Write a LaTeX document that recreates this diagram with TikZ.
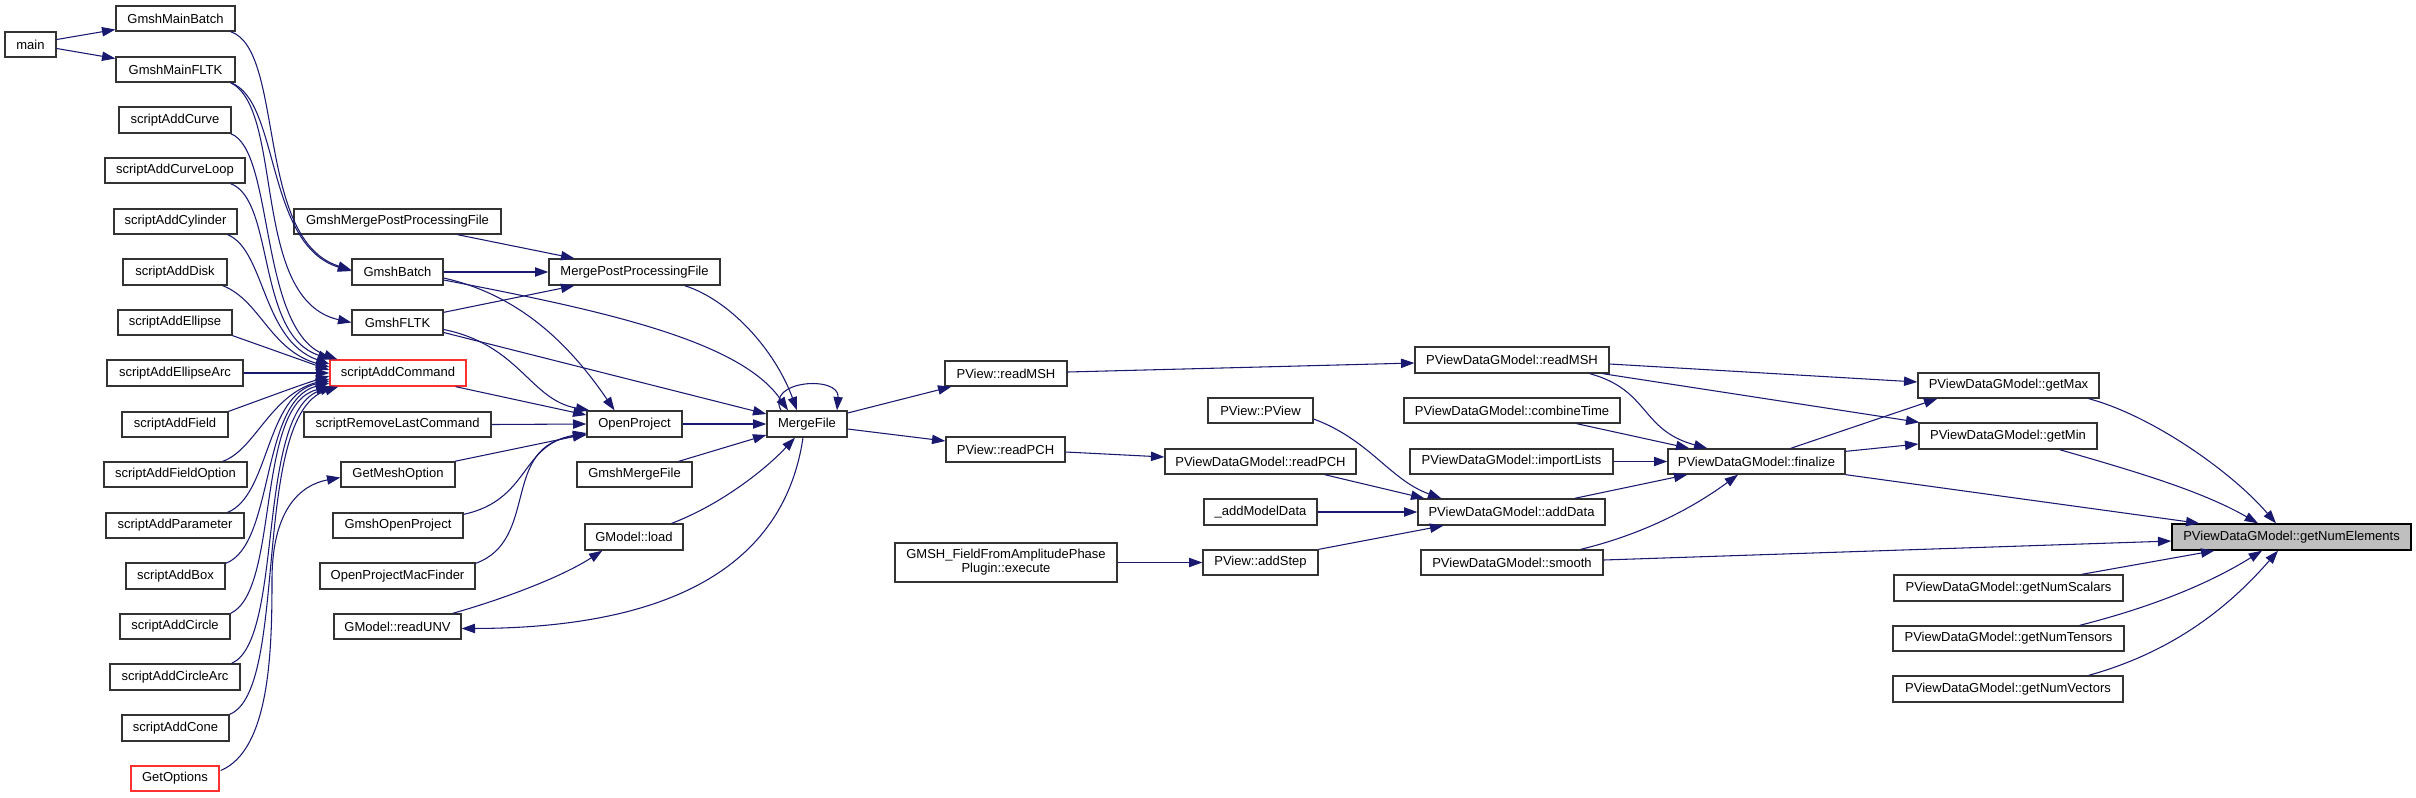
\documentclass[tikz,border=0pt]{standalone}
\usepackage{fontspec}
\setmainfont{Liberation Sans}
\usetikzlibrary{arrows.meta,calc}
\definecolor{mblue}{RGB}{25,25,112}
\definecolor{redb}{RGB}{255,48,48}
\definecolor{grayf}{RGB}{191,191,191}
\newcommand\gnode[7][]{%
  \pgfmathsetlengthmacro\gw{#5*0.75pt}%
  \pgfmathsetlengthmacro\gh{#6*0.75pt}%
  \node[box,#1,minimum width=\gw,minimum height=\gh] (#2) at (#3,#4) {#7};}
\begin{document}
\begin{tikzpicture}[x=0.75pt,y=-0.75pt,
  box/.style={draw=black!80, line width=1pt, fill=white, inner sep=0pt, font=\fontsize{9.75}{10.5}\selectfont},
  cl/.style={draw=mblue, line width=0.8pt, -{Triangle[length=10pt,width=7pt]}}]
\useasboundingbox (0,0) rectangle (2416,797);
% column 1
\gnode{main}{30.5}{44.5}{51}{25}{main}
% column 2
\gnode{GmshMainBatch}{175.5}{18.5}{119}{25}{GmshMainBatch}
\gnode{GmshMainFLTK}{175.5}{69.5}{119}{25}{GmshMainFLTK}
\gnode{sACurve}{175}{120}{112}{26}{scriptAddCurve}
\gnode{sACurveLoop}{175}{170.5}{140}{25}{scriptAddCurveLoop}
\gnode{sACylinder}{175.5}{221.5}{123}{25}{scriptAddCylinder}
\gnode{sADisk}{175}{272}{104}{26}{scriptAddDisk}
\gnode{sAEllipse}{175}{322.5}{114}{25}{scriptAddEllipse}
\gnode{sAEllipseArc}{175}{373}{136}{26}{scriptAddEllipseArc}
\gnode{sAField}{175}{424.5}{106}{25}{scriptAddField}
\gnode{sAFieldOption}{175.5}{474.5}{143}{25}{scriptAddFieldOption}
\gnode{sAParameter}{175}{525.5}{138}{25}{scriptAddParameter}
\gnode{sABox}{175.5}{576}{99}{26}{scriptAddBox}
\gnode{sACircle}{175}{626.5}{110}{25}{scriptAddCircle}
\gnode{sACircleArc}{175}{677}{130}{26}{scriptAddCircleArc}
\gnode{sACone}{175.5}{728}{107}{26}{scriptAddCone}
\gnode[draw=redb]{GetOptions}{175}{778.5}{88}{25}{GetOptions}
% column 3
\gnode{GmshMPPF}{397.5}{221.5}{207}{25}{GmshMergePostProcessingFile}
\gnode{GmshBatch}{397.5}{272}{91}{26}{GmshBatch}
\gnode{GmshFLTK}{397.5}{322.5}{91}{25}{GmshFLTK}
\gnode[draw=redb]{sACommand}{398}{373}{136}{26}{scriptAddCommand}
\gnode{sRLC}{397.5}{424.5}{187}{25}{scriptRemoveLastCommand}
\gnode{GetMeshOption}{398}{474.5}{114}{25}{GetMeshOption}
\gnode{GmshOpenProject}{398}{525.5}{130}{25}{GmshOpenProject}
\gnode{OPMacFinder}{397.5}{576}{155}{26}{OpenProjectMacFinder}
\gnode{readUNV}{397.5}{626.5}{127}{25}{GModel::readUNV}
% column 4
\gnode{MPPF}{634.5}{272}{171}{26}{MergePostProcessingFile}
\gnode{OpenProject}{634.5}{424}{95}{26}{OpenProject}
\gnode{GmshMergeFile}{634.5}{474.5}{115}{25}{GmshMergeFile}
\gnode{GMload}{634}{537}{98}{26}{GModel::load}
% column 5
\gnode{MergeFile}{807}{424}{80}{26}{MergeFile}
% column 6
\gnode{PVreadMSH}{1006}{373.5}{122}{25}{PView::readMSH}
\gnode{PVreadPCH}{1005.5}{449.5}{119}{25}{PView::readPCH}
\gnode[align=center]{GMSHField}{1006}{562.5}{222}{39}{GMSH\_FieldFromAmplitudePhase\\Plugin::execute}
% column 7
\gnode{PVPView}{1260.5}{410.5}{105}{25}{PView::PView}
\gnode{DGreadPCH}{1260.5}{461.5}{191}{25}{PViewDataGModel::readPCH}
\gnode{addModelData}{1260.5}{512}{113}{26}{\_addModelData}
\gnode{PVaddStep}{1260.5}{562.5}{115}{25}{PView::addStep}
% column 8
\gnode{DGreadMSH}{1512}{360}{194}{26}{PViewDataGModel::readMSH}
\gnode{DGcombineTime}{1512}{410.5}{216}{25}{PViewDataGModel::combineTime}
\gnode{DGimportLists}{1511.5}{461.5}{203}{25}{PViewDataGModel::importLists}
\gnode{DGaddData}{1511.5}{512}{187}{26}{PViewDataGModel::addData}
\gnode{DGsmooth}{1512}{562.5}{182}{25}{PViewDataGModel::smooth}
% column 9
\gnode{DGfinalize}{1756.5}{461.5}{177}{25}{PViewDataGModel::finalize}
% column 10
\gnode{DGgetMax}{2008.5}{385.5}{181}{25}{PViewDataGModel::getMax}
\gnode{DGgetMin}{2008}{436}{178}{26}{PViewDataGModel::getMin}
\gnode{DGgetNumScalars}{2008.5}{588}{229}{26}{PViewDataGModel::getNumScalars}
\gnode{DGgetNumTensors}{2008.5}{638.5}{231}{25}{PViewDataGModel::getNumTensors}
\gnode{DGgetNumVectors}{2008}{689}{230}{26}{PViewDataGModel::getNumVectors}
% column 11
\gnode[fill=grayf,draw=black]{DGgetNumElements}{2291.5}{537}{239}{26}{PViewDataGModel::getNumElements}

% ---- edges, left part
\draw[cl] ($(main.east)+(0,-5)$) -- ($(GmshMainBatch.west)+(0,11)$);
\draw[cl] ($(main.east)+(0,4)$) -- ($(GmshMainFLTK.west)+(0,-11)$);
\draw[cl] ($(GmshMainBatch.south east)+(-5,0)$) .. controls (285,50) and (255,240) .. ($(GmshBatch.west)+(0,-2)$);
\draw[cl] ($(GmshMainFLTK.south east)+(-5,0)$) .. controls (280,100) and (265,245) .. ($(GmshBatch.west)+(0,-1)$);
\draw[cl] ($(GmshMainFLTK.south east)+(-5,0)$) .. controls (285,110) and (250,300) .. (GmshFLTK.west);
\draw[cl] ($(sACurve.south east)+(-1,0)$) .. controls (275,150) and (258,330) .. ($(sACommand.north west)+(8,0)$);
\draw[cl] ($(sACurveLoop.south east)+(-15,0)$) .. controls (275,200) and (256,335) .. ($(sACommand.north west)+(2,0)$);
\draw[cl] ($(sACylinder.south east)+(-10,0)$) .. controls (265,250) and (262,340) .. ($(sACommand.west)+(0,-9)$);
\draw[cl] ($(sADisk.south east)+(-5,0)$) .. controls (260,300) and (270,350) .. ($(sACommand.west)+(0,-6)$);
\draw[cl] (sAEllipse.south east) -- ($(sACommand.west)+(0,-3)$);
\draw[cl] (sAEllipseArc.east) -- (sACommand.west);
\draw[cl] (sAField.north east) .. controls (260,400) and (300,385) .. ($(sACommand.west)+(0,3)$);
\draw[cl] ($(sAFieldOption.north east)+(-25,0)$) .. controls (255,450) and (270,395) .. ($(sACommand.west)+(0,6)$);
\draw[cl] ($(sAParameter.north east)+(-17,0)$) .. controls (270,495) and (265,395) .. ($(sACommand.west)+(0,8)$);
\draw[cl] ($(sABox.north east)+(0,1)$) .. controls (275,545) and (260,400) .. ($(sACommand.west)+(0,10)$);
\draw[cl] (sACircle.north east) .. controls (280,590) and (255,405) .. (sACommand.south west);
\draw[cl] ($(sACircleArc.north east)+(-9,0)$) .. controls (285,640) and (255,410) .. ($(sACommand.south west)+(4,0)$);
\draw[cl] (sACone.north east) .. controls (290,690) and (250,415) .. ($(sACommand.south west)+(9,0)$);
\draw[cl] ($(GetOptions.east)+(1,-8)$) .. controls (270,750) and (272,650) .. (272,580) .. controls (272,510) and (300,485) .. ($(GetMeshOption.west)+(0,3)$);

% ---- middle part
\draw[cl] ($(GmshMPPF.south)+(60,0)$) -- ($(MPPF.north west)+(26,0)$);
\draw[cl] (GmshBatch.east) -- (MPPF.west);
\draw[cl] ($(GmshBatch.east)+(0,6)$) .. controls (520,295) and (570,345) .. ($(OpenProject.north)+(-20,0)$);
\draw[cl] ($(GmshBatch.east)+(0,8)$) .. controls (600,310) and (740,340) .. ($(MergeFile.north)+(-19,0)$);
\draw[cl] ($(GmshFLTK.north east)+(0,3)$) -- ($(MPPF.south west)+(26,0)$);
\draw[cl] ($(GmshFLTK.east)+(0,7)$) .. controls (520,345) and (530,400) .. ($(OpenProject.north west)+(3,0)$);
\draw[cl] ($(GmshFLTK.east)+(0,10)$) -- ($(MergeFile.west)+(0,-10)$);
\draw[cl] ($(sACommand.south east)+(-11,0)$) -- ($(OpenProject.west)+(0,-9)$);
\draw[cl] (sRLC.east) -- (OpenProject.west);
\draw[cl] ($(GetMeshOption.north east)+(-1,0)$) -- ($(OpenProject.west)+(0,10)$);
\draw[cl] ($(GmshOpenProject.north east)+(0,2)$) .. controls (530,500) and (520,445) .. ($(OpenProject.west)+(0,9)$);
\draw[cl] ($(OPMacFinder.north east)+(0,1)$) .. controls (540,540) and (500,445) .. ($(OpenProject.west)+(0,11)$);
\draw[cl] ($(MPPF.south east)+(-36,0)$) .. controls (730,300) and (775,350) .. ($(MergeFile.north)+(-10,0)$);
\draw[cl] (OpenProject.east) -- (MergeFile.west);
\draw[cl] ($(GmshMergeFile.north east)+(-14,0)$) -- ($(MergeFile.west)+(0,11)$);
\draw[cl] ($(GMload.north east)+(-12,0)$) .. controls (720,505) and (765,470) .. ($(MergeFile.south)+(-12,0)$);
\draw[cl] ($(MergeFile.south)+(-4,0)$) .. controls (785,560) and (680,628) .. ($(readUNV.east)+(0,2)$);
\draw[cl] ($(readUNV.north east)+(-9,0)$) .. controls (500,600) and (560,578) .. ($(GMload.south west)+(18,0)$);
\draw[cl] ($(MergeFile.north)+(-26,0)$) .. controls (765,380) and (840,375) .. ($(MergeFile.north)+(30,0)$);

% ---- right part
\draw[cl] ($(MergeFile.east)+(0,-11)$) -- ($(PVreadMSH.south west)+(7,0)$);
\draw[cl] ($(MergeFile.east)+(0,5)$) -- ($(PVreadPCH.west)+(0,-8.5)$);
\draw[cl] ($(PVreadMSH.east)+(0,-1.5)$) -- ($(DGreadMSH.west)+(0,3)$);
\draw[cl] ($(PVreadPCH.east)+(0,2.5)$) -- ($(DGreadPCH.west)+(0,-4.5)$);
\draw[cl] ($(PVPView.east)+(0,8.5)$) .. controls (1370,440) and (1390,480) .. ($(DGaddData.north west)+(24,0)$);
\draw[cl] ($(DGreadPCH.south east)+(-32,0)$) -- ($(DGaddData.north west)+(7,0)$);
\draw[cl] (addModelData.east) -- (DGaddData.west);
\draw[cl] (PVaddStep.north east) -- ($(DGaddData.south west)+(26,0)$);
\draw[cl] (GMSHField.east) -- (PVaddStep.west);
\draw[cl] ($(DGreadMSH.south east)+(-20,0)$) .. controls (1650,390) and (1640,430) .. ($(DGfinalize.north west)+(40,0)$);
\draw[cl] ($(DGreadMSH.east)+(0,4)$) -- ($(DGgetMax.west)+(0,-3.5)$);
\draw[cl] ($(DGreadMSH.south east)+(-7,0)$) -- ($(DGgetMin.north west)+(1,0)$);
\draw[cl] ($(DGcombineTime.south east)+(-44,0)$) -- ($(DGfinalize.north west)+(22,0)$);
\draw[cl] (DGimportLists.east) -- (DGfinalize.west);
\draw[cl] ($(DGaddData.north east)+(-31,0)$) -- ($(DGfinalize.south west)+(20,0)$);
\draw[cl] ($(DGsmooth.north east)+(-23,0)$) .. controls (1640,535) and (1690,510) .. ($(DGfinalize.south)+(-18.5,0)$);
\draw[cl] ($(DGsmooth.east)+(0,-2.5)$) -- ($(DGgetNumElements.west)+(0,4)$);
\draw[cl] ($(DGfinalize.north east)+(-55,0)$) -- ($(DGgetMax.south west)+(20,0)$);
\draw[cl] ($(DGfinalize.north east)+(0,3)$) -- ($(DGgetMin.west)+(0,8)$);
\draw[cl] (DGfinalize.south east) -- ($(DGgetNumElements.north west)+(28,0)$);
\draw[cl] ($(DGgetMax.south east)+(-11,0)$) .. controls (2150,415) and (2230,470) .. ($(DGgetNumElements.north)+(-15.5,0)$);
\draw[cl] ($(DGgetMin.south east)+(-38,0)$) .. controls (2130,470) and (2200,490) .. ($(DGgetNumElements.north)+(-33.5,0)$);
\draw[cl] ($(DGgetNumScalars.north east)+(-42,0)$) -- ($(DGgetNumElements.south west)+(43,0)$);
\draw[cl] ($(DGgetNumTensors.north east)+(-45,0)$) .. controls (2160,605) and (2215,580) .. ($(DGgetNumElements.south)+(-29.5,0)$);
\draw[cl] ($(DGgetNumVectors.north east)+(-35,0)$) .. controls (2180,650) and (2235,600) .. ($(DGgetNumElements.south)+(-13.5,0)$);
\end{tikzpicture}
\end{document}
